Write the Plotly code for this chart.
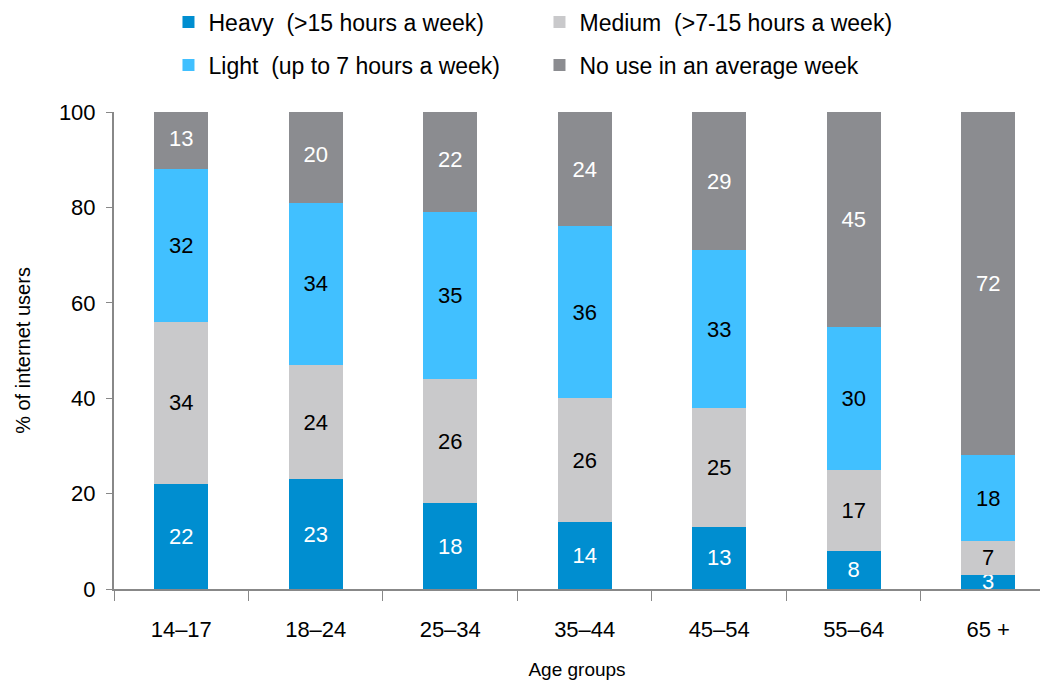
import plotly.graph_objects as go

categories = ["14–17", "18–24", "25–34", "35–44", "45–54", "55–64", "65 +"]
heavy = [22, 23, 18, 14, 13, 8, 3]
medium = [34, 24, 26, 26, 25, 17, 7]
light = [32, 34, 35, 36, 33, 30, 18]
no_use = [13, 20, 22, 24, 29, 45, 72]

series = [
    ("Heavy \u00a0(>15 hours a week)", heavy, "#008ED0", "white", "legend"),
    ("Medium \u00a0(>7-15 hours a week)", medium, "#C9C9CB", "black", "legend"),
    ("Light \u00a0(up to 7 hours a week)", light, "#41C0FF", "black", "legend2"),
    ("No use in an average week", no_use, "#8B8C90", "white", "legend2"),
]

FONT = "Liberation Sans, Arial, sans-serif"

fig = go.Figure()
for name, vals, color, tcolor, leg in series:
    fig.add_trace(go.Bar(
        x=categories, y=vals, name=name, marker_color=color,
        marker_line_width=0,
        text=[str(v) for v in vals], textposition="inside", textangle=0,
        insidetextanchor="middle", constraintext="none",
        textfont=dict(color=tcolor, size=22, family=FONT),
        legend=leg,
    ))

n = len(categories)
leg_common = dict(orientation="h", xref="container", yref="container",
                  x=0.162, xanchor="left", yanchor="middle",
                  entrywidth=326, entrywidthmode="pixels", traceorder="normal",
                  font=dict(size=23, family=FONT), itemwidth=30,
                  bgcolor="rgba(0,0,0,0)")
fig.update_layout(
    width=1040, height=687,
    barmode="stack", bargap=0.6,
    plot_bgcolor="white", paper_bgcolor="white",
    margin=dict(l=114, r=0, t=112, b=98, autoexpand=False),
    font=dict(family=FONT, size=22, color="black"),
    legend=dict(leg_common, y=1 - 22 / 687),
    legend2=dict(leg_common, y=1 - 65 / 687),
    xaxis=dict(
        range=[-0.5, n - 0.5 - 0.115], showline=True, linecolor="#888888", linewidth=2,
        ticks="outside", tickson="boundaries", ticklen=10, tickcolor="#888888", tickwidth=1,
        tickfont=dict(size=22, family=FONT), showgrid=False, ticklabelstandoff=20,
        title=dict(text="Age groups", font=dict(size=19, family=FONT), standoff=21),
    ),
    yaxis=dict(
        range=[0, 100], tickvals=[0, 20, 40, 60, 80, 100], showline=True,
        linecolor="#888888", linewidth=2, ticks="outside", ticklen=6,
        tickcolor="#888888", tickfont=dict(size=22, family=FONT), showgrid=False,
        zeroline=False, ticklabelstandoff=6,
        title=dict(text="% of internet users", font=dict(size=20, family=FONT), standoff=23),
    ),
)

fig.write_html("out.html", config={"displayModeBar": False},
               post_script="document.body.style.margin='0';document.body.style.overflow='hidden';")
